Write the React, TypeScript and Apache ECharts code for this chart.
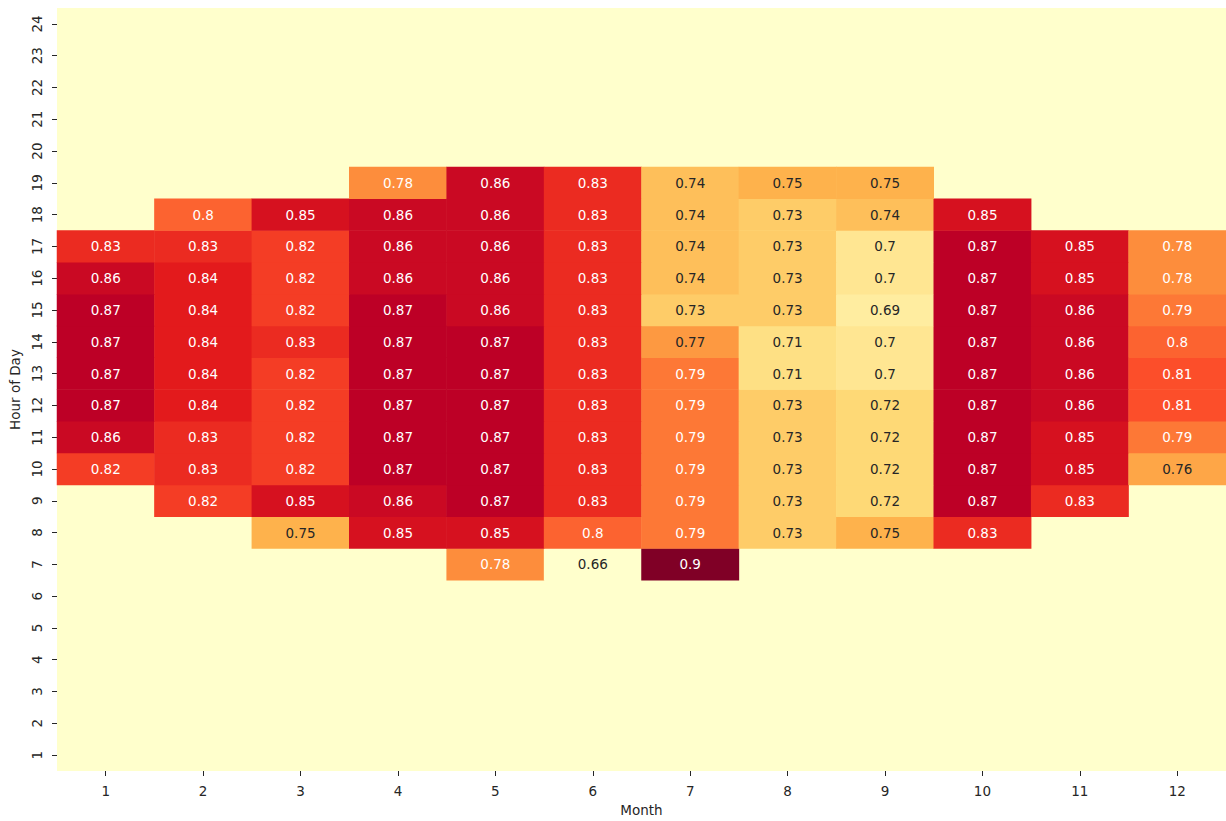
import React, { useEffect, useRef } from "react";
import * as echarts from "echarts";

const months = ["1", "2", "3", "4", "5", "6", "7", "8", "9", "10", "11", "12"];
const hours = Array.from({ length: 24 }, (_, i) => String(i + 1));

// Rows by hour of day; null = no data. Columns are months 1..12.
const hour7 = [null, null, null, null, 0.78, 0.66, 0.9, null, null, null, null, null];
const hour8 = [null, null, 0.75, 0.85, 0.85, 0.8, 0.79, 0.73, 0.75, 0.83, null, null];
const hour9 = [null, 0.82, 0.85, 0.86, 0.87, 0.83, 0.79, 0.73, 0.72, 0.87, 0.83, null];
const hour10 = [0.82, 0.83, 0.82, 0.87, 0.87, 0.83, 0.79, 0.73, 0.72, 0.87, 0.85, 0.76];
const hour11 = [0.86, 0.83, 0.82, 0.87, 0.87, 0.83, 0.79, 0.73, 0.72, 0.87, 0.85, 0.79];
const hour12 = [0.87, 0.84, 0.82, 0.87, 0.87, 0.83, 0.79, 0.73, 0.72, 0.87, 0.86, 0.81];
const hour13 = [0.87, 0.84, 0.82, 0.87, 0.87, 0.83, 0.79, 0.71, 0.7, 0.87, 0.86, 0.81];
const hour14 = [0.87, 0.84, 0.83, 0.87, 0.87, 0.83, 0.77, 0.71, 0.7, 0.87, 0.86, 0.8];
const hour15 = [0.87, 0.84, 0.82, 0.87, 0.86, 0.83, 0.73, 0.73, 0.69, 0.87, 0.86, 0.79];
const hour16 = [0.86, 0.84, 0.82, 0.86, 0.86, 0.83, 0.74, 0.73, 0.7, 0.87, 0.85, 0.78];
const hour17 = [0.83, 0.83, 0.82, 0.86, 0.86, 0.83, 0.74, 0.73, 0.7, 0.87, 0.85, 0.78];
const hour18 = [null, 0.8, 0.85, 0.86, 0.86, 0.83, 0.74, 0.73, 0.74, 0.85, null, null];
const hour19 = [null, null, null, 0.78, 0.86, 0.83, 0.74, 0.75, 0.75, null, null, null];

const rows: { hour: number; values: (number | null)[] }[] = [
  { hour: 7, values: hour7 },
  { hour: 8, values: hour8 },
  { hour: 9, values: hour9 },
  { hour: 10, values: hour10 },
  { hour: 11, values: hour11 },
  { hour: 12, values: hour12 },
  { hour: 13, values: hour13 },
  { hour: 14, values: hour14 },
  { hour: 15, values: hour15 },
  { hour: 16, values: hour16 },
  { hour: 17, values: hour17 },
  { hour: 18, values: hour18 },
  { hour: 19, values: hour19 },
];

const ylOrRd = ["#ffffcc", "#ffeda0", "#fed976", "#feb24c", "#fd8d3c", "#fc4e2a", "#e31a1c", "#bd0026", "#800026"];
const vMin = 0.66;
const vMax = 0.9;

const FONT = "DejaVu Sans";
const FS = 13.5;
const DARK = "#262626";

export default function App() {
  const ref = useRef<HTMLDivElement>(null);
  useEffect(() => {
    if (!ref.current) return;
    const chart = echarts.init(ref.current, null, { renderer: "svg" });
    const data: any[] = [];
    rows.forEach((r) => {
      r.values.forEach((v, m) => {
        if (v === null) return;
        data.push({
          value: [m, r.hour - 1, v],
          label: { color: v >= 0.775 ? "#ffffff" : DARK },
        });
      });
    });
    chart.setOption({
      animation: false,
      backgroundColor: "#ffffff",
      grid: {
        left: 57,
        right: 0,
        top: 8,
        bottom: 50,
        show: true,
        backgroundColor: "#ffffcc",
        borderWidth: 0,
        containLabel: false,
        outerBoundsMode: "none",
      },
      xAxis: {
        type: "category",
        data: months,
        name: "Month",
        nameLocation: "middle",
        nameGap: 32,
        nameTextStyle: { fontFamily: FONT, fontSize: FS, color: DARK },
        axisLine: { show: false },
        axisTick: { show: true, length: 5, alignWithLabel: true, lineStyle: { color: DARK } },
        axisLabel: { fontFamily: FONT, fontSize: FS, color: DARK, margin: 13 },
        splitLine: { show: false },
      },
      yAxis: {
        type: "category",
        data: hours,
        name: "Hour of Day",
        nameLocation: "middle",
        nameGap: 35,
        nameTextStyle: { fontFamily: FONT, fontSize: FS, color: DARK },
        axisLine: { show: false },
        axisTick: { show: true, length: 5, alignWithLabel: true, lineStyle: { color: DARK } },
        axisLabel: { fontFamily: FONT, fontSize: FS, color: DARK, rotate: 90, margin: 13 },
        splitLine: { show: false },
      },
      visualMap: {
        show: false,
        type: "continuous",
        min: vMin,
        max: vMax,
        dimension: 2,
        inRange: { color: ylOrRd },
      },
      series: [
        {
          type: "heatmap",
          data,
          label: {
            show: true,
            fontFamily: FONT,
            fontSize: FS,
            formatter: (p: any) => String(p.value[2]),
          },
          itemStyle: { borderWidth: 0 },
          emphasis: { disabled: true },
        },
      ],
    });
    return () => chart.dispose();
  }, []);
  return <div ref={ref} style={{ position: "fixed", left: 0, top: 0, width: 1226, height: 821 }} />;
}
